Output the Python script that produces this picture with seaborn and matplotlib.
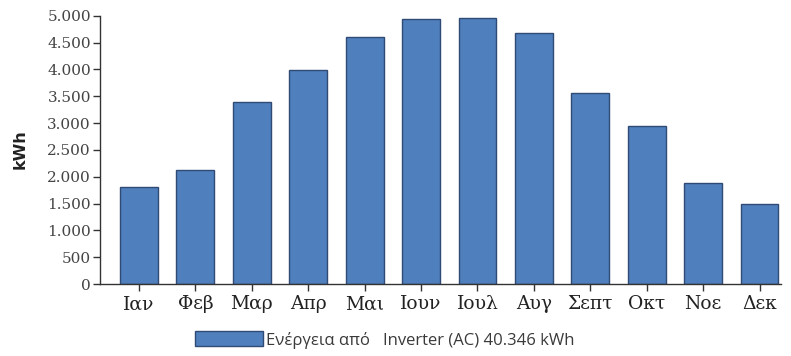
import matplotlib
matplotlib.use("Agg")
import matplotlib.pyplot as plt
import seaborn as sns
import pandas as pd
from matplotlib.ticker import FuncFormatter

months = ["Ιαν", "Φεβ", "Μαρ", "Απρ", "Μαι", "Ιουν", "Ιουλ", "Αυγ", "Σεπτ", "Οκτ", "Νοε", "Δεκ"]
energy_kwh = [1810, 2125, 3400, 3990, 4600, 4930, 4955, 4670, 3560, 2940, 1875, 1491]
y_ticks = [0, 500, 1000, 1500, 2000, 2500, 3000, 3500, 4000, 4500, 5000]
legend_label = "Ενέργεια από   Inverter (AC) 40.346 kWh"

sns.set_theme(style="white")
plt.rcParams["font.family"] = ["DejaVu Sans"]

df = pd.DataFrame({"month": months, "kwh": energy_kwh})

fig = plt.figure(figsize=(7.91, 3.56), dpi=100)
ax = fig.add_axes([100 / 791, 1 - 284 / 356, (781 - 100) / 791, (284 - 15.7) / 356])

sns.barplot(data=df, x="month", y="kwh", ax=ax, color="#4F80BD", saturation=1,
            width=0.67, edgecolor="#2E4A75", linewidth=1.0)

ax.set_xlim(-0.69, 11.38)
ax.set_ylim(0, 5000)
ax.set_yticks(y_ticks)
ax.yaxis.set_major_formatter(FuncFormatter(lambda v, p: f"{int(v):,}".replace(",", ".")))

for side in ["top", "right"]:
    ax.spines[side].set_visible(False)
for side in ["left", "bottom"]:
    ax.spines[side].set_color("#333333")
    ax.spines[side].set_linewidth(1.0)

ax.tick_params(axis="y", which="major", direction="out", length=5, width=1,
               color="#333333", pad=1.5, labelsize=11, labelcolor="#444444")
ax.tick_params(axis="x", which="major", direction="out", length=5, width=1,
               color="#333333", pad=3, labelsize=13.5, labelcolor="#222222")
ax.tick_params(left=True, bottom=True)
for lab in ax.get_yticklabels() + ax.get_xticklabels():
    lab.set_family("DejaVu Serif")

ax.set_xlabel("")
ax.set_ylabel("kWh", fontsize=11.5, fontweight="bold", color="#222222")
ax.yaxis.set_label_coords((28 - 100) / (781 - 100), (284 - 149) / (284 - 15.7))

handle = ax.patches[0]
fig.legend([handle], [legend_label], loc="center left",
           bbox_to_anchor=(180 / 791, 1 - 340 / 356), frameon=False,
           handlelength=4.05, handleheight=1.0, handletextpad=0.2,
           labelcolor="#3a3a3a",
           prop={"family": "Open Sans", "size": 12})

fig.savefig("out.png", dpi=100)
